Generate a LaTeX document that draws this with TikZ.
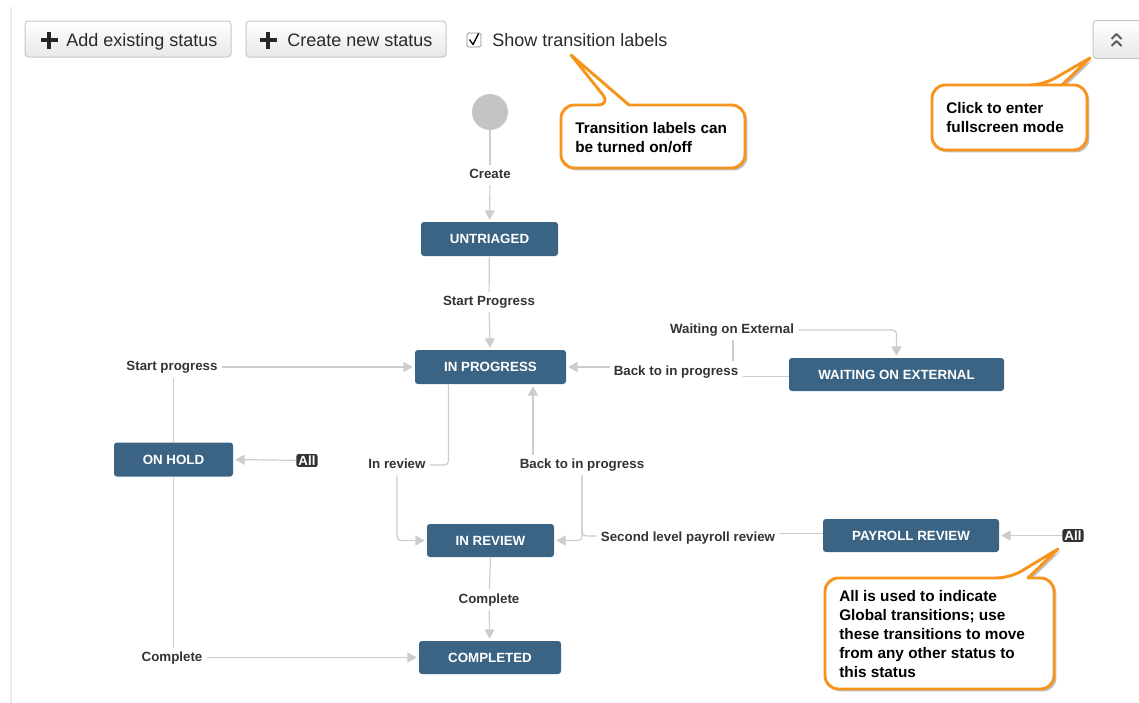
\documentclass[tikz,border=0pt]{standalone}
\usepackage{fontspec}
\setmainfont{Liberation Sans}
\usetikzlibrary{shadows,arrows.meta}
\definecolor{stat}{HTML}{3B6484}
\definecolor{conn}{HTML}{CCCCCC}
\definecolor{lab}{HTML}{333333}
\definecolor{orng}{HTML}{F7941E}
\definecolor{btnb}{HTML}{C6C6C6}
\definecolor{startc}{HTML}{C4C4C4}
\tikzset{
  status/.style={fill=stat, rounded corners=2.2pt, text=white, inner sep=0pt,
    font=\bfseries\fontsize{10}{12}\selectfont, minimum height=25.5pt},
  tlabel/.style={text=lab, inner sep=3pt, text height=7.2pt, text depth=2.1pt,
    font=\bfseries\fontsize{10}{12}\selectfont},
  conn/.style={draw=conn, line width=0.9pt},
  arr/.style={conn, -{Triangle[length=7pt,width=7.5pt]}, shorten >=1.5pt},
  rc/.style={rounded corners=3pt},
  allbadge/.style={fill=lab, rounded corners=1.5pt, text=white, inner xsep=1.5pt, inner ysep=1.2pt,
    font=\bfseries\fontsize{10}{11}\selectfont},
  btn/.style={draw=btnb, line width=0.75pt, rounded corners=2.5pt, top color=white, bottom color=black!9,
    minimum height=27pt, inner sep=0pt},
  btntext/.style={text=lab!80!black, inner sep=0pt, anchor=base west, font=\fontsize{13.5}{16}\selectfont},
  callout/.style={draw=orng, line width=2.2pt, fill=white, rounded corners=10pt, line join=round,
    drop shadow={shadow xshift=1.8pt, shadow yshift=-1.8pt, opacity=0.35, fill=black!70}},
  ctext/.style={text=black, align=left, inner sep=0pt, anchor=west,
    font=\bfseries\fontsize{11.5}{14.4}\selectfont},
}
\begin{document}
\begin{tikzpicture}[x=0.75pt,y=-0.75pt]
\useasboundingbox (0,0) rectangle (1139,703);
% left border
\draw[black!8, line width=1.2pt] (11,7) -- (11,703);

% toolbar buttons
\node[btn, minimum width=154.5pt] (b1) at (128,39) {};
\node[btntext] (b1t) at (66,46.5) {Add existing status};
\draw[line width=3.6pt, black!85] (40.5,40) -- (57.5,40) (49,31.5) -- (49,48.5);
\node[btn, minimum width=150pt] (b2) at (346,39) {};
\node[btntext] (b2t) at (287,46.5) {Create new status};
\draw[line width=3.6pt, black!85] (259.5,40) -- (276.5,40) (268,31.5) -- (268,48.5);
% checkbox
\draw[black!45, fill=white, rounded corners=1.2pt, line width=0.6pt] (467,33) rectangle (481,47);
\draw[black, line width=1pt, line join=round] (469.5,39.5) -- (473,44.5) -- (478.5,33.5);
\node[btntext] (show) at (492,46.5) {Show transition labels};
% fullscreen button
\node[btn, minimum width=39pt, minimum height=28.5pt] (fs) at (1119,39.5) {};
\draw[black!65, line width=1.5pt, line join=round]
  (1111.5,39) -- (1116.5,34) -- (1121.5,39)
  (1111.5,46) -- (1116.5,41) -- (1121.5,46);

% start
\node[circle, fill=startc, minimum size=27pt, inner sep=0pt] (start) at (490,112) {};

% statuses
\node[status, minimum width=102.75pt] (untriaged) at (489.5,239) {UNTRIAGED};
\node[status, minimum width=113.25pt] (inprog) at (490.5,367) {IN PROGRESS};
\node[status, minimum width=161.25pt, minimum height=24.75pt] (waiting) at (896.5,374.5) {WAITING ON EXTERNAL};
\node[status, minimum width=89.25pt] (onhold) at (173.5,459.5) {ON HOLD};
\node[status, minimum width=95.25pt, minimum height=24.75pt] (inreview) at (490.5,540.5) {IN REVIEW};
\node[status, minimum width=132pt, minimum height=24.75pt] (payroll) at (911,535.5) {PAYROLL REVIEW};
\node[status, minimum width=106.5pt, minimum height=24.75pt] (completed) at (490,657.5) {COMPLETED};

% all badges
\node[allbadge] (all1) at (307,460.5) {All};
\node[allbadge] (all2) at (1073,535.5) {All};

% transition labels
\node[tlabel] (create) at (490,175) {Create};
\node[tlabel] (sp1) at (489,302) {Start Progress};
\node[tlabel] (wext) at (732,330) {Waiting on External};
\node[tlabel] (back1) at (676,372) {Back to in progress};
\node[tlabel] (sp2) at (172,367.5) {Start progress};
\node[tlabel] (inrev) at (397,465) {In review};
\node[tlabel] (back2) at (582,465) {Back to in progress};
\node[tlabel] (second) at (688,538) {Second level payroll review};
\node[tlabel] (comp1) at (489,600) {Complete};
\node[tlabel] (comp2) at (172,658) {Complete};
\coordinate (wx) at (733,361);

% connectors
\draw[conn] (start) -- (create);
\draw[arr] (create) -- (untriaged);
\draw[conn] (untriaged) -- (sp1);
\draw[arr] (sp1) -- (inprog);
\draw[arr] (sp2.east |- inprog.west) -- (inprog.west);
\draw[conn] (onhold.north) -- (onhold.north |- sp2.south);
\draw[arr] (all1) -- (onhold.east);
\draw[conn] (onhold.south) -- (onhold.south |- comp2.north);
\draw[arr] (comp2.east |- completed.west) -- (completed.west);
\draw[conn, rc] ([xshift=-31.5pt]inprog.south) |- (inrev.east);
\draw[arr, rc] (inrev.south) |- (inreview.west);
\draw[arr] ([xshift=-36.75pt]back2.north) -- ([xshift=-36.75pt]back2.north |- inprog.south);
\draw[arr, rc] (back2.south) |- (inreview.east);
\draw[conn, rc] ([yshift=1.5pt]second.west) -| (back2.south);
\draw[conn] ([yshift=1.5pt]payroll.west) -- ([yshift=1.5pt]payroll.west -| second.east);
\draw[arr] (all2) -- (payroll.east);
\draw[conn] (inreview.south) -- (comp1);
\draw[arr] (comp1) -- (completed);
\draw[conn] ([yshift=-1.5pt]waiting.west) -- ([yshift=-1.5pt]waiting.west -| back1.east);
\draw[arr] (back1.west |- inprog.east) -- (inprog.east);
\draw[conn] (wext.south -| wx) -- (wx);
\draw[arr, rc] (wext.east) -| (waiting.north);

% callouts
\draw[callout] (690,105) -- (745,105) -- (745,168) -- (561,168) -- (561,105) -- (611,105)
  [sharp corners] -- (571,55) -- (629,105) [rounded corners=10pt] -- cycle;
\node[ctext] (c1) at (575,137.5) {Transition labels can\\be turned on/off};

\draw[callout] (980,85) -- (1087,85) -- (1087,150) -- (932,150) -- (932,85) -- (1000,85) -- (1043,85)
  [sharp corners] -- (1090,58) -- (1062,85) [rounded corners=10pt] -- cycle;
\node[ctext] (c2) at (946,117.5) {Click to enter\\fullscreen mode};

\draw[callout] (900,578) -- (1010,578) [sharp corners] -- (1058,549) -- (1028,578)
  [rounded corners=10pt] -- (1054,578) -- (1054,689) -- (825,689) -- (825,578) -- cycle;
\node[ctext] (c3) at (839,634) {All is used to indicate\\Global transitions; use\\these transitions to move\\from any other status to\\this status};
\end{tikzpicture}
\end{document}
